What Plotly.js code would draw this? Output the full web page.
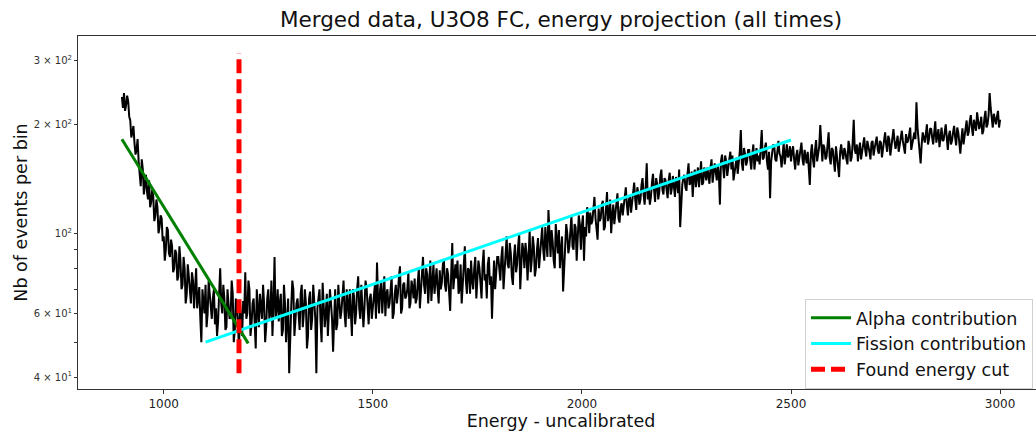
<!DOCTYPE html>
<html>
<head>
<meta charset="utf-8">
<script src="https://cdn.plot.ly/plotly-3.0.1.min.js"></script>
<style>
html,body{margin:0;padding:0;overflow:hidden;background:#fff;}
#chart{width:1046px;height:433px;}
</style>
</head>
<body>
<div id="chart"></div>
<script>
// Histogram, bin width 2.5 (uncalibrated units), starting at 900.
const binStart = 900;
const binWidth = 2.5;
// Counts of the bins at 900, 905, 910, ... 3000
const countsEven = [
  238,244,226,232,205,190,178,170,158,135,150,138,130,140,122,126,112,118,104,110,
  98,90,102,86,92,80,88,76,84,72,80,68,76,64,74,70,62,71,50,66,
  72,60,68,58,70,62,57,80,60,66,55,64,59,68,54,62,47,58,65,78,
  60,70,56,66,48,62,68,58,64,55,70,60,52,86,62,57,68,54,64,59,
  41,63,70,58,66,54,72,60,64,52,69,58,62,41,66,57,73,55,68,60,
  64,47,70,56,66,61,74,55,63,70,52,67,60,76,58,65,62,71,56,68,
  63,72,83,60,74,66,59,70,64,76,60,72,68,81,62,73,67,78,64,71,
  75,66,80,70,86,68,77,72,65,82,74,70,79,73,84,69,77,61,94,75,
  75,68,82,72,92,68,79,84,70,86,75,80,66,90,77,82,72,58,84,78,
  86,74,92,78,98,80,88,72,93,82,100,78,90,94,74,102,84,92,80,97,
  88,104,84,96,116,86,95,80,97,102,90,69,88,100,92,112,90,104,96,106,
  105,84,98,112,114,108,126,101,117,110,123,104,130,112,100,120,115,129,107,121,
  118,134,112,127,121,138,116,129,124,142,120,156,132,126,146,122,137,130,150,128,
  140,125,147,133,136,143,129,104,136,145,131,156,139,126,150,141,134,158,138,147,
  152,137,160,145,148,155,120,165,142,158,150,168,164,147,162,155,193,149,166,158,
  170,150,176,160,158,155,193,162,178,150,125,165,174,158,180,163,170,155,176,165,
  158,174,150,170,162,178,154,164,168,136,176,152,181,165,199,158,172,163,190,155,
  170,148,165,143,176,160,168,155,174,162,206,166,158,178,168,184,163,175,160,180,
  172,185,166,178,170,190,168,182,175,194,171,186,178,192,174,188,180,196,176,190,
  230,184,156,190,178,200,182,195,176,204,185,173,196,181,200,170,192,180,198,175,
  190,166,195,184,205,190,212,186,200,216,194,210,192,218,200,244,205,214,200,218,206
];
// Counts of the bins at 902.5, 907.5, ... 2997.5
const countsOdd = [
  222,218,240,210,184,198,165,182,146,160,128,145,124,118,132,108,124,100,112,95,
  84,104,88,96,78,90,74,92,70,86,64,82,70,78,62,80,66,58,70,60,
  55,74,63,66,56,52,68,64,72,54,70,58,74,50,66,57,64,52,60,58,
  74,52,64,58,70,55,61,72,50,66,58,74,64,58,70,64,52,72,50,66,
  56,74,52,64,59,68,55,70,48,66,54,72,58,62,70,50,64,60,52,70,
  58,62,54,72,58,68,60,70,58,62,70,56,70,62,72,55,74,60,66,58,
  68,58,66,70,60,76,68,62,72,58,68,64,76,60,72,66,70,62,74,66,
  64,73,62,78,72,80,64,84,76,68,80,64,70,82,72,80,68,78,70,82,
  84,70,64,82,74,80,68,74,80,66,84,70,82,74,66,86,76,72,70,86,
  78,86,70,90,82,94,76,86,78,92,70,94,80,88,92,78,98,76,90,80,
  96,90,104,86,95,102,84,106,88,80,98,78,106,88,101,92,106,84,112,90,
  112,104,118,100,106,118,110,96,108,120,102,118,108,124,112,106,122,110,118,112,
  126,120,124,114,132,124,134,120,136,128,134,124,120,138,132,142,124,144,132,142,
  132,140,128,144,126,138,150,126,142,134,146,136,148,144,134,152,146,136,152,140,
  144,152,138,156,140,146,158,150,164,144,160,150,140,158,146,168,156,172,154,170,
  158,166,150,172,164,170,160,172,158,168,158,176,160,170,166,152,178,168,162,174,
  168,160,164,154,172,160,170,156,150,166,160,170,158,174,168,176,160,176,162,172,
  158,174,156,168,166,172,160,180,158,178,170,176,170,160,176,170,180,168,178,164,
  178,170,180,162,182,176,186,164,186,180,178,168,186,180,166,178,190,170,186,182,
  196,172,176,184,188,176,194,184,190,178,194,186,180,190,184,186,176,190,184,196,
  178,182,176,198,186,204,196,206,192,204,200,188,208,196,212,222,196,206,210,196
];
const counts = [];
countsEven.forEach((c, i) => { counts.push(c); if (i < countsOdd.length) counts.push(countsOdd[i]); });
const energies = counts.map((_, i) => binStart + i * binWidth);

// Fitted contributions (end points)
const alphaE = [900, 1202];
const alphaY = [182, 49.6];
const fissionE = [1100, 2500];
const fissionY = [50, 181];
// Found energy cut
const cutE = [1180, 1180];
const cutY = [41, 315];

const yTickVals = [40, 50, 60, 70, 80, 90, 100, 200, 300];
const yTickText = ['4 × 10<sup>1</sup>', '', '6 × 10<sup>1</sup>', '', '', '', '10<sup>2</sup>', '2 × 10<sup>2</sup>', '3 × 10<sup>2</sup>'];
const xTickVals = [1000, 1500, 2000, 2500, 3000];

const font = 'DejaVu Sans, sans-serif';

const traces = [
  {x: energies, y: counts, type: 'scatter', mode: 'lines', line: {color: '#000', width: 2}, showlegend: false, hoverinfo: 'skip'},
  {x: alphaE, y: alphaY, type: 'scatter', mode: 'lines', name: 'Alpha contribution', line: {color: '#008000', width: 3}},
  {x: fissionE, y: fissionY, type: 'scatter', mode: 'lines', name: 'Fission contribution', line: {color: '#00ffff', width: 3}},
  {x: cutE, y: cutY, type: 'scatter', mode: 'lines', name: 'Found energy cut', line: {color: '#ff0000', width: 5, dash: '14px,6px'}}
];

const layout = {
  width: 1046, height: 433,
  margin: {l: 78, r: 2, t: 36, b: 44},
  paper_bgcolor: '#fff', plot_bgcolor: '#fff',
  font: {family: font, color: '#222'},
  title: {text: 'Merged data, U3O8 FC, energy projection (all times)', font: {family: font, size: 21.5, color: '#111'},
          x: 0.5, xref: 'paper', xanchor: 'center', y: 1 - 19.5/433, yref: 'container', yanchor: 'middle'},
  xaxis: {
    range: [795, 3105], showgrid: false, zeroline: false,
    showline: true, mirror: true, linecolor: '#333', linewidth: 1,
    ticks: 'outside', ticklen: 4, tickcolor: '#333',
    tickmode: 'array', tickvals: xTickVals, ticktext: xTickVals.map(String),
    tickfont: {family: font, size: 12, color: '#222'},
    title: {text: 'Energy - uncalibrated', font: {family: font, size: 17.5, color: '#111'}, standoff: 4}
  },
  yaxis: {
    type: 'log', range: [Math.log10(37.1), Math.log10(351)], showgrid: false, zeroline: false,
    showline: true, mirror: true, linecolor: '#333', linewidth: 1,
    ticks: 'outside', ticklen: 3, tickcolor: '#333',
    tickmode: 'array', tickvals: yTickVals, ticktext: yTickText,
    tickfont: {family: font, size: 10, color: '#333'},
    title: {text: 'Nb of events per bin', font: {family: font, size: 17.5, color: '#111'}, standoff: 1}
  },
  legend: {
    x: 0.7526, y: 0.255, xanchor: 'left', yanchor: 'top',
    bgcolor: 'rgba(255,255,255,0.9)', bordercolor: '#d0d0d0', borderwidth: 1,
    font: {family: font, size: 17.5, color: '#111'}, tracegroupgap: 0, itemwidth: 40
  },
  showlegend: true
};

Plotly.newPlot('chart', traces, layout, {displayModeBar: false, staticPlot: true});
</script>
</body>
</html>
